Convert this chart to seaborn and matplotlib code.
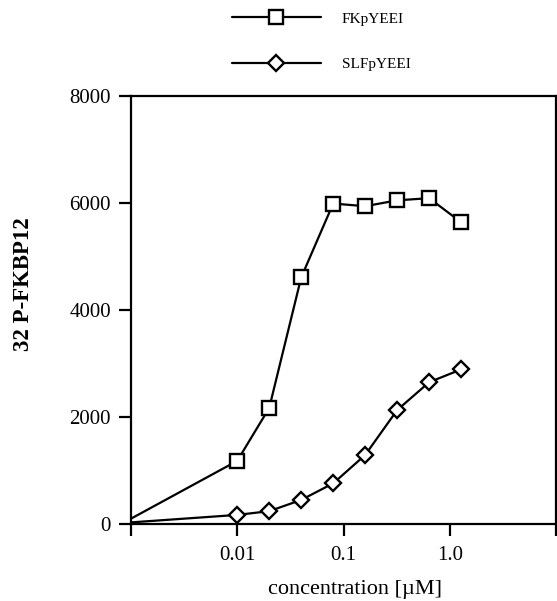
import numpy as np
import pandas as pd
import seaborn as sns
import matplotlib
matplotlib.use("Agg")
import matplotlib.pyplot as plt
from matplotlib.lines import Line2D

# ---- data ----
concentration = [0.001, 0.01, 0.02, 0.04, 0.08, 0.16, 0.32, 0.64, 1.28]
fkpyeei = [100, 1180, 2170, 4610, 5990, 5940, 6050, 6090, 5640]
slfpyeei = [30, 170, 240, 450, 760, 1290, 2130, 2650, 2890]
series_names = ["FKpYEEI", "SLFpYEEI"]
series_markers = ["s", "D"]
x_ticks = [0.001, 0.01, 0.1, 1.0, 10.0]
x_tick_labels = ["", "0.01", "0.1", "1.0", ""]
y_ticks = [0, 2000, 4000, 6000, 8000]

df = pd.DataFrame({
    "conc": concentration * 2,
    "signal": fkpyeei + slfpyeei,
    "peptide": [series_names[0]] * len(concentration) + [series_names[1]] * len(concentration),
})

sns.set_style("ticks")
plt.rcParams["font.family"] = ["Liberation Serif", "DejaVu Serif"]
plt.rcParams["text.color"] = "black"
plt.rcParams["axes.labelcolor"] = "black"
plt.rcParams["xtick.color"] = "black"
plt.rcParams["ytick.color"] = "black"

fig = plt.figure(figsize=(5.57, 6.01), dpi=100)
ax = fig.add_axes([131 / 557, 1 - 524 / 601, 425 / 557, 428 / 601])

marker_sizes = {"s": 10, "D": 8}
for name, mk in zip(series_names, series_markers):
    sub = df[df["peptide"] == name]
    sns.lineplot(data=sub, x="conc", y="signal", ax=ax, color="black",
                 linewidth=1.6, marker=mk, markersize=marker_sizes[mk],
                 markerfacecolor="white", markeredgecolor="black",
                 markeredgewidth=1.7, markevery=list(range(1, len(sub))),
                 legend=False, clip_on=False, zorder=3)

ax.set_xscale("log")
ax.set_xlim(0.001, 10)
ax.set_ylim(0, 8000)
ax.set_xticks(x_ticks)
ax.set_xticklabels(x_tick_labels)
ax.xaxis.set_minor_locator(matplotlib.ticker.NullLocator())
ax.set_yticks(y_ticks)
ax.set_yticklabels([str(v) for v in y_ticks])

for sp in ax.spines.values():
    sp.set_linewidth(1.6)
    sp.set_color("black")
ax.tick_params(axis="both", direction="out", length=8.5, width=1.6,
               labelsize=15, colors="black", pad=6)
ax.tick_params(axis="x", pad=7)

ax.set_xlabel("concentration [µM]", fontsize=16, color="black")
ax.xaxis.label.set_va("center")
ax.xaxis.set_label_coords(0.527, -0.154)
ax.set_ylabel("32 P-FKBP12", fontsize=16.5, fontweight="bold", color="black")
ax.yaxis.label.set_va("center")
ax.yaxis.set_label_coords(-0.254, 0.561)

handles = [Line2D([], [], color="black", linewidth=1.6, marker=mk,
                  markersize=marker_sizes[mk], markerfacecolor="white",
                  markeredgecolor="black", markeredgewidth=1.7)
           for mk in series_markers]
leg = fig.legend(handles, series_names, loc="upper left",
                 bbox_to_anchor=(232 / 557, 1 - 12 / 601), frameon=False,
                 fontsize=11, handlelength=5.8, handletextpad=1.4,
                 labelspacing=2.1, borderpad=0, borderaxespad=0)
for t in leg.get_texts():
    t.set_color("black")

fig.savefig("out.png", dpi=100)
